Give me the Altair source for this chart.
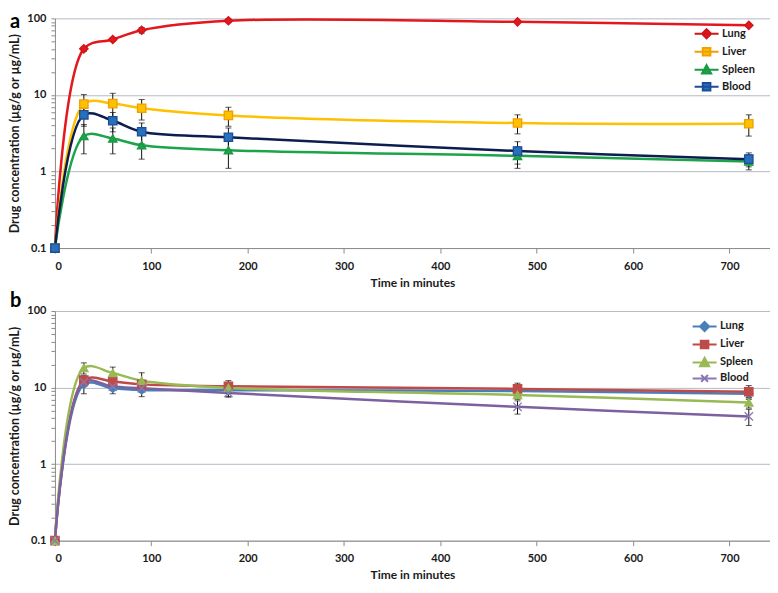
import altair as alt
import pandas as pd

times = [0, 30, 60, 90, 180, 480, 720]
series = ["Lung", "Liver", "Spleen", "Blood"]

# Panel a values (mean) and error (SD)
a_lung = [0.1, 40, 53, 70, 93, 90, 81]
a_lung_err = [0, 3, 3, 6, 5, 0, 0]
a_liver = [0.1, 7.6, 7.7, 6.7, 5.4, 4.3, 4.2]
a_liver_err = [0, 2.5, 2.8, 2.0, 1.5, 1.2, 1.3]
a_spleen = [0.1, 2.9, 2.7, 2.2, 1.9, 1.6, 1.35]
a_spleen_err = [0, 1.2, 1.0, 0.75, 0.8, 0.5, 0.3]
a_blood = [0.1, 5.5, 4.6, 3.3, 2.8, 1.85, 1.45]
a_blood_err = [0, 1.6, 1.3, 1.0, 0.9, 0.6, 0.3]

# Panel b values (mean) and error (SD)
b_lung = [0.1, 11, 9.8, 9.3, 9.2, 9.0, 8.3]
b_lung_err = [0, 2.7, 1.5, 1.7, 1.6, 1.2, 1.0]
b_liver = [0.1, 12.5, 12.0, 11.0, 10.4, 9.6, 8.8]
b_liver_err = [0, 1.8, 1.8, 1.5, 1.9, 1.8, 1.8]
b_spleen = [0.1, 18, 15.5, 12.3, 9.9, 8.0, 6.4]
b_spleen_err = [0, 3.0, 3.0, 3.3, 1.0, 1.0, 1.0]
b_blood = [0.1, 11.8, 10.3, 9.8, 8.5, 5.6, 4.2]
b_blood_err = [0, 1.5, 1.2, 1.2, 1.0, 1.1, 1.0]

x_ticks = [0, 100, 200, 300, 400, 500, 600, 700]
y_ticks = [0.1, 0.2, 0.3, 0.4, 0.5, 0.6, 0.7, 0.8, 0.9,
           1, 2, 3, 4, 5, 6, 7, 8, 9,
           10, 20, 30, 40, 50, 60, 70, 80, 90, 100]

FONT = "Lato"
TXT = "#1a1a1a"


def build_frames(vals, errs):
    rows, erows = [], []
    for s in series:
        for t, v, e in zip(times, vals[s], errs[s]):
            rows.append({"time": t, "value": v, "series": s})
            if e > 0:
                erows.append({"time": t, "series": s, "lo": v - e, "hi": v + e})
    return pd.DataFrame(rows), pd.DataFrame(erows)


def legend_shape_expr(paths):
    expr = "'" + paths[-1] + "'"
    for s, p in reversed(list(zip(series[:-1], paths[:-1]))):
        expr = f"datum.value == '{s}' ? '{p}' : " + expr
    return expr


DIAMOND_L = "M-3,0H3M0,-1.15L1.15,0L0,1.15L-1.15,0Z"
SQUARE_L = "M-3,0H3M-0.95,-0.95H0.95V0.95H-0.95Z"
TRI_L = "M-3,0H3M0,-1.15L1.15,0.95H-1.15Z"
X_L = "M-3,0H3M-0.85,-0.85L0.85,0.85M-0.85,0.85L0.85,-0.85"
X_SHAPE = "M-1,-1L1,1M-1,1L1,-1"


def panel(df, edf, letter, letter_y, line_cols, fill_cols, stroke_cols, shapes, legend_paths, legend_x):
    xs = alt.Scale(domain=[0, 742], nice=False, zero=False)
    ys = alt.Scale(type="log", domain=[0.1, 100], nice=False)
    xtitle = "Time in minutes"
    ytitle = "Drug concentration (µg/g or µg/mL)"
    major_test = "datum.value == 0.1 || datum.value == 1 || datum.value == 10 || datum.value == 100"
    xaxis = alt.Axis(values=x_ticks, grid=False, tickSize=5, labelPadding=7,
                     titlePadding=6, labelFontSize=11, titleFontSize=12)
    yaxis = alt.Axis(values=y_ticks,
                     labelExpr="datum.value == 0.1 ? '0.1' : datum.value == 1 ? '1' : datum.value == 10 ? '10' : datum.value == 100 ? '100' : ''",
                     gridOpacity={"condition": {"test": major_test, "value": 1}, "value": 0},
                     tickSize=4, labelPadding=5, titlePadding=5,
                     labelFontSize=11, titleFontSize=12.5)
    x = alt.X("time:Q", scale=xs, axis=xaxis, title=xtitle)
    y = alt.Y("value:Q", scale=ys, axis=yaxis, title=ytitle)
    xe = alt.X("time:Q", scale=xs, title=xtitle)

    # reversed domain order keeps these legend-less scales from merging with the legend
    rev = series[::-1]
    lines = alt.Chart(df).mark_line(interpolate="catmull-rom", strokeWidth=2.5).encode(
        x=x, y=y,
        color=alt.Color("series:N", scale=alt.Scale(domain=rev, range=line_cols[::-1]), legend=None),
    )
    err_rule = alt.Chart(edf).mark_rule(color="#111111", strokeWidth=1).encode(
        x=xe, y=alt.Y("lo:Q", scale=ys, title=ytitle), y2="hi:Q",
    )
    err_lo = alt.Chart(edf).mark_tick(orient="horizontal", color="#111111", thickness=1, size=6).encode(
        x=xe, y=alt.Y("lo:Q", scale=ys, title=ytitle),
    )
    err_hi = alt.Chart(edf).mark_tick(orient="horizontal", color="#111111", thickness=1, size=6).encode(
        x=xe, y=alt.Y("hi:Q", scale=ys, title=ytitle),
    )
    legend = alt.Legend(
        title=None, orient="none", legendX=legend_x, legendY=10, padding=0,
        labelFont=FONT, labelFontWeight="bold", labelFontSize=11, labelColor=TXT,
        labelOffset=10, symbolSize=64, symbolStrokeWidth=2, rowPadding=0,
        symbolType={"expr": legend_shape_expr(legend_paths)},
    )
    points = alt.Chart(df).mark_point(filled=True, size=70, opacity=1, strokeWidth=1.3).encode(
        x=x, y=y,
        shape=alt.Shape("series:N", scale=alt.Scale(domain=rev, range=shapes[::-1]), legend=None),
        fill=alt.Fill("series:N", scale=alt.Scale(domain=series, range=fill_cols), legend=legend),
        stroke=alt.Stroke("series:N", scale=alt.Scale(domain=series, range=stroke_cols), legend=legend),
    )
    label = alt.Chart(pd.DataFrame({"t": [letter]})).mark_text(
        font=FONT, fontWeight="bold", fontSize=20, color="#000000", align="left", baseline="alphabetic"
    ).encode(text="t:N", x=alt.value(-45), y=alt.value(letter_y))
    return alt.layer(lines, err_rule, err_lo, err_hi, points, label).properties(width=716, height=230)


da, ea = build_frames(
    {"Lung": a_lung, "Liver": a_liver, "Spleen": a_spleen, "Blood": a_blood},
    {"Lung": a_lung_err, "Liver": a_liver_err, "Spleen": a_spleen_err, "Blood": a_blood_err},
)
db, eb = build_frames(
    {"Lung": b_lung, "Liver": b_liver, "Spleen": b_spleen, "Blood": b_blood},
    {"Lung": b_lung_err, "Liver": b_liver_err, "Spleen": b_spleen_err, "Blood": b_blood_err},
)

top = panel(
    da, ea, "a", 10,
    line_cols=["#E3171C", "#FFC000", "#1DA34A", "#0C1D4F"],
    fill_cols=["#E3171C", "#FFC000", "#1DA34A", "#2670BE"],
    stroke_cols=["#D0141A", "#F0A000", "#189A44", "#1D4E95"],
    shapes=["diamond", "square", "triangle-up", "square"],
    legend_paths=[DIAMOND_L, SQUARE_L, TRI_L, SQUARE_L],
    legend_x=647,
)
bottom = panel(
    db, eb, "b", -4,
    line_cols=["#4A7EBB", "#BE4B48", "#98B954", "#7D60A0"],
    fill_cols=["#4A7EBB", "#BE4B48", "#98B954", "#9F8FC4"],
    stroke_cols=["#4A7EBB", "#BE4B48", "#98B954", "#8C78B6"],
    shapes=["diamond", "square", "triangle-up", X_SHAPE],
    legend_paths=[DIAMOND_L, SQUARE_L, TRI_L, X_L],
    legend_x=645,
)

chart = alt.vconcat(top, bottom, spacing=3).resolve_scale(
    color="independent", fill="independent", stroke="independent", shape="independent"
).properties(padding={"left": 0, "top": 4, "right": 0, "bottom": 0}).configure_view(stroke=None).configure_axis(
    labelFont=FONT, titleFont=FONT, labelFontWeight="bold", titleFontWeight="bold",
    labelColor=TXT, titleColor=TXT, gridColor="#B4BAC4", gridWidth=1,
    domainColor="#8C8C8C", tickColor="#8C8C8C",
)

chart.save("out.html", embed_options={"renderer": "svg", "actions": False})
